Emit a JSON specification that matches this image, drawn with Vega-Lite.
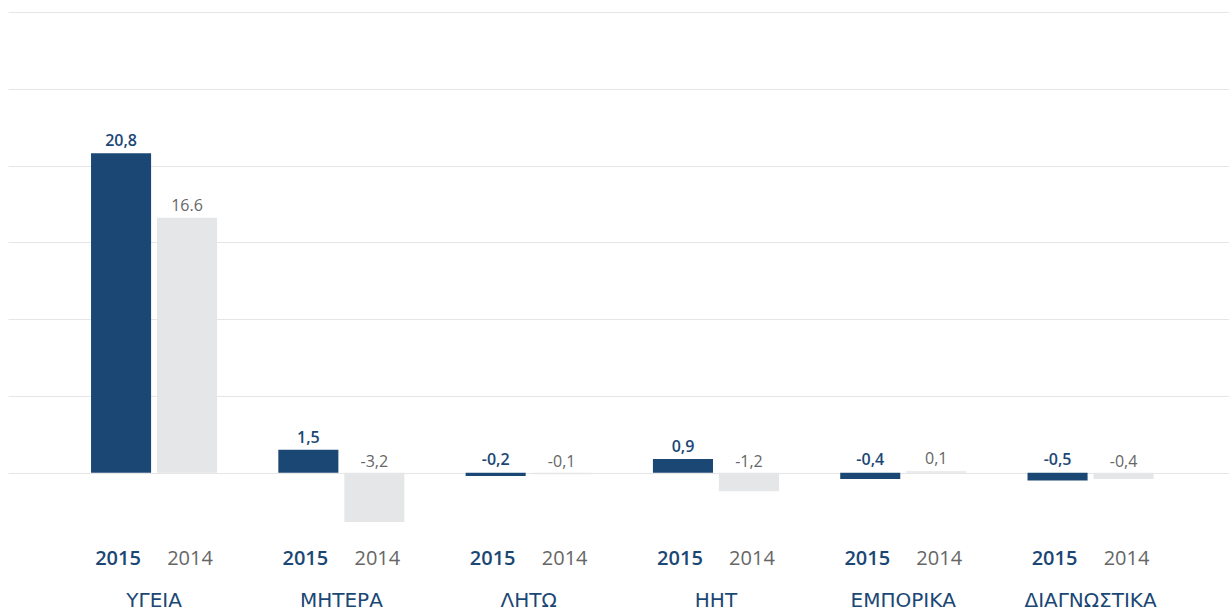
{
  "$schema": "https://vega.github.io/schema/vega-lite/v6.json",
  "width": 1221,
  "height": 553,
  "autosize": {"type": "none"},
  "padding": {"left": 8, "top": 12, "right": 0, "bottom": 43},
  "background": "white",
  "config": {"view": {"stroke": null}, "font": "Open Sans"},
  "data": {
    "values": [
      {"cat": "ΥΓΕΙΑ", "year": "2015", "value": 20.8, "label": "20,8"},
      {"cat": "ΥΓΕΙΑ", "year": "2014", "value": 16.6, "label": "16.6"},
      {"cat": "ΜΗΤΕΡΑ", "year": "2015", "value": 1.5, "label": "1,5"},
      {"cat": "ΜΗΤΕΡΑ", "year": "2014", "value": -3.2, "label": "-3,2"},
      {"cat": "ΛΗΤΩ", "year": "2015", "value": -0.2, "label": "-0,2"},
      {"cat": "ΛΗΤΩ", "year": "2014", "value": -0.1, "label": "-0,1"},
      {"cat": "ΗΗΤ", "year": "2015", "value": 0.9, "label": "0,9"},
      {"cat": "ΗΗΤ", "year": "2014", "value": -1.2, "label": "-1,2"},
      {"cat": "ΕΜΠΟΡΙΚΑ", "year": "2015", "value": -0.4, "label": "-0,4"},
      {"cat": "ΕΜΠΟΡΙΚΑ", "year": "2014", "value": 0.1, "label": "0,1"},
      {"cat": "ΔΙΑΓΝΩΣΤΙΚΑ", "year": "2015", "value": -0.5, "label": "-0,5"},
      {"cat": "ΔΙΑΓΝΩΣΤΙΚΑ", "year": "2014", "value": -0.4, "label": "-0,4"}
    ]
  },
  "encoding": {
    "x": {
      "field": "cat",
      "type": "nominal",
      "sort": ["ΥΓΕΙΑ", "ΜΗΤΕΡΑ", "ΛΗΤΩ", "ΗΗΤ", "ΕΜΠΟΡΙΚΑ", "ΔΙΑΓΝΩΣΤΙΚΑ"],
      "scale": {"paddingInner": 0.327, "paddingOuter": 0.423, "align": 0.524},
      "axis": {
        "title": null,
        "domain": false,
        "ticks": false,
        "labelFont": "DejaVu Sans",
        "labelFontSize": 20,
        "labelColor": "#1b4775",
        "labelPadding": 25,
        "labelAngle": 0
      }
    },
    "xOffset": {
      "field": "year",
      "type": "nominal",
      "sort": ["2015", "2014"],
      "scale": {"paddingInner": 0.09, "paddingOuter": 0}
    }
  },
  "layer": [
    {
      "mark": {"type": "bar"},
      "encoding": {
        "y": {
          "field": "value",
          "type": "quantitative",
          "scale": {"domain": [-6, 30], "nice": false, "zero": true},
          "axis": {
            "title": null,
            "labels": false,
            "ticks": false,
            "domain": false,
            "values": [0, 5, 10, 15, 20, 25, 30],
            "gridColor": "#e6e6e6",
            "gridWidth": 1
          }
        },
        "color": {
          "field": "year",
          "type": "nominal",
          "scale": {"domain": ["2015", "2014"], "range": ["#1b4775", "#e5e6e8"]},
          "legend": null
        }
      }
    },
    {
      "transform": [{"filter": "datum.year == '2015' && datum.value >= 0"}],
      "mark": {"type": "text", "fontSize": 16, "fontWeight": 600, "color": "#1b4775", "baseline": "alphabetic", "dy": -7},
      "encoding": {
        "y": {"field": "value", "type": "quantitative"},
        "text": {"field": "label"}
      }
    },
    {
      "transform": [{"filter": "datum.year == '2015' && datum.value < 0"}],
      "mark": {"type": "text", "fontSize": 16, "fontWeight": 600, "color": "#1b4775", "baseline": "alphabetic", "dy": -8},
      "encoding": {
        "y": {"datum": 0},
        "text": {"field": "label"}
      }
    },
    {
      "transform": [{"filter": "datum.year == '2014' && datum.value >= 0"}],
      "mark": {"type": "text", "fontSize": 16, "color": "#666666", "baseline": "alphabetic", "dy": -7},
      "encoding": {
        "y": {"field": "value", "type": "quantitative"},
        "text": {"field": "label"}
      }
    },
    {
      "transform": [{"filter": "datum.year == '2014' && datum.value < 0"}],
      "mark": {"type": "text", "fontSize": 16, "color": "#666666", "baseline": "alphabetic", "dy": -6},
      "encoding": {
        "y": {"datum": 0},
        "text": {"field": "label"}
      }
    },
    {
      "transform": [{"filter": "datum.year == '2015'"}],
      "mark": {"type": "text", "fontSize": 20, "fontWeight": 600, "color": "#1b4775", "baseline": "alphabetic", "dx": -3},
      "encoding": {
        "y": {"datum": -6},
        "text": {"field": "year"}
      }
    },
    {
      "transform": [{"filter": "datum.year == '2014'"}],
      "mark": {"type": "text", "fontSize": 20, "color": "#666666", "baseline": "alphabetic", "dx": 3},
      "encoding": {
        "y": {"datum": -6},
        "text": {"field": "year"}
      }
    }
  ]
}
